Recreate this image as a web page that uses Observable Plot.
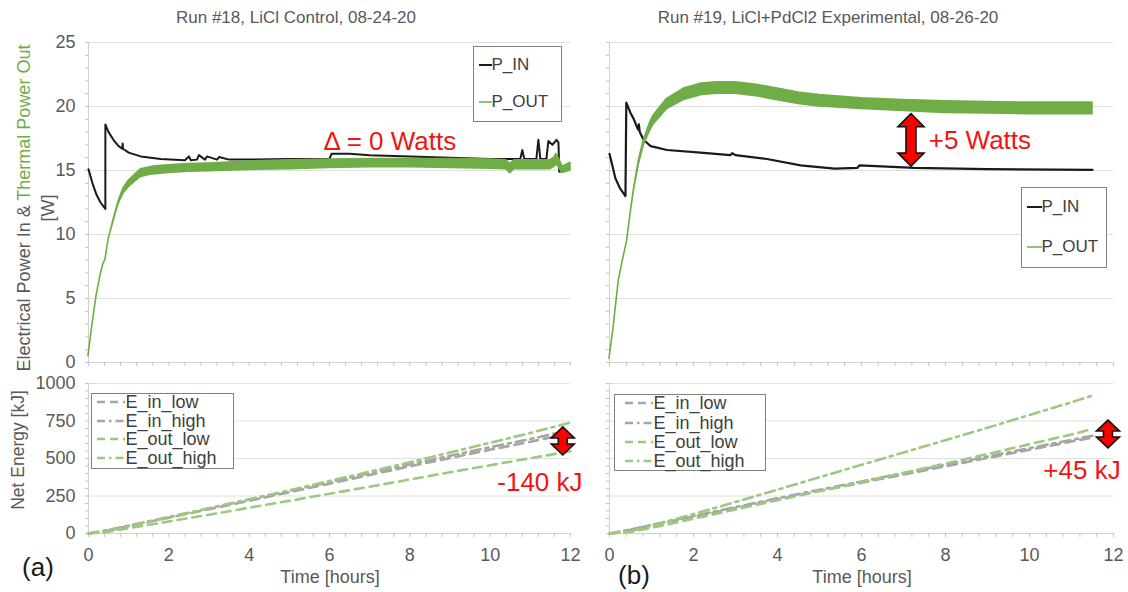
<!DOCTYPE html>
<html><head><meta charset="utf-8">
<script src="https://cdn.jsdelivr.net/npm/d3@7"></script>
<script src="https://cdn.jsdelivr.net/npm/@observablehq/plot@0.6"></script>
<style>
body{margin:0;background:#fff;font-family:"Liberation Sans",Arial,sans-serif;}
#wrap{position:relative;width:1128px;height:592px;overflow:hidden;background:#fff;}
.abs{position:absolute;white-space:nowrap;line-height:1;}
.ctr{transform:translate(-50%,-50%);}
.rot{transform:translate(-50%,-50%) rotate(-90deg);text-align:center;color:#595959;}
.legend{position:absolute;border:1.5px solid #808080;background:#fff;box-sizing:border-box;}
.item{position:absolute;white-space:nowrap;color:#404040;transform:translateY(-50%);}
svg.plot{position:absolute;}
</style></head><body><div id="wrap"></div>
<script>
// ---------- tick values ----------
const xTicks = [0, 2, 4, 6, 8, 10, 12];
const pTicks = [0, 5, 10, 15, 20, 25];
const eTicks = [0, 250, 500, 750, 1000];
const xMinor = [0,0.4,0.8,1.2,1.6,2,2.4,2.8,3.2,3.6,4,4.4,4.8,5.2,5.6,6,6.4,6.8,7.2,7.6,8,8.4,8.8,9.2,9.6,10,10.4,10.8,11.2,11.6,12];
const pMinor = [0,1,2,3,4,5,6,7,8,9,10,11,12,13,14,15,16,17,18,19,20,21,22,23,24,25];
const eMinor = [0,50,100,150,200,250,300,350,400,450,500,550,600,650,700,750,800,850,900,950,1000];

// ---------- Run #18 power ----------
const t18In = [0,0.1,0.2,0.3,0.42,0.42,0.5,0.62,0.75,0.84,0.85,0.86,1.0,1.3,1.8,2.4,2.5,2.55,2.7,2.75,2.9,2.95,3.2,3.25,3.5,4,5,6.0,6.05,6.5,7,8,9,10,10.75,10.8,10.85,11.15,11.2,11.25,11.4,11.45,11.55,11.65,11.7,11.72,11.8];
const w18In = [15.1,14.0,13.1,12.5,12.0,18.6,18.0,17.4,16.9,16.7,17.1,16.7,16.4,16.1,15.9,15.8,16.1,15.8,15.85,16.2,15.85,16.1,15.85,16.05,15.85,15.85,15.9,15.9,16.3,16.3,16.2,16.1,16.0,15.9,15.9,16.6,15.9,15.9,17.4,15.9,15.9,17.3,17.0,17.4,17.2,14.9,15.0];
const t18Out = [0,0.1,0.2,0.3,0.37,0.42,0.5,0.62,0.75,0.87,1.0,1.3,1.6,2,2.5,3,4,5,6,7,8,9,10,10.4,10.5,10.6,11,11.5,11.6,11.65,11.7,11.8,12];
const lo18Out = [0.5,3.0,5.2,6.8,7.7,8.0,9.6,11.0,12.4,13.2,13.7,14.5,14.7,14.8,14.9,14.95,15.05,15.1,15.2,15.25,15.25,15.2,15.15,15.1,14.8,15.1,15.1,15.1,15.3,15.5,15.3,14.8,15.0];
const hi18Out = [0.5,3.0,5.2,6.8,7.7,8.0,9.6,11.1,12.6,13.6,14.2,15.1,15.3,15.4,15.5,15.55,15.7,15.8,15.85,15.9,15.9,15.9,15.85,15.8,15.5,15.8,15.8,15.8,16.0,16.3,16.0,15.3,15.6];

// ---------- Run #19 power ----------
const t19In = [0,0.14,0.25,0.38,0.4,0.5,0.58,0.68,0.7,0.72,0.81,0.98,1.37,2.17,2.88,2.92,3.0,3.75,4.55,5.36,5.9,5.95,7.26,9,11.5];
const w19In = [16.3,14.4,13.6,13.0,20.3,19.5,19.0,18.2,18.6,18.0,17.4,16.9,16.6,16.4,16.2,16.35,16.2,15.9,15.4,15.15,15.2,15.4,15.2,15.1,15.05];
const t19Out = [0,0.1,0.22,0.32,0.42,0.5,0.58,0.7,0.82,0.95,1.05,1.37,1.77,2.2,2.57,3.0,3.5,4.0,4.5,5.0,6,7,8,9,10,11,11.5];
const lo19Out = [0.3,2.8,6.4,8.0,9.5,11.6,13.4,15.5,17.0,18.0,18.6,19.8,20.5,20.9,21.0,21.0,20.8,20.5,20.2,20.0,19.8,19.65,19.5,19.45,19.4,19.4,19.4];
const hi19Out = [0.3,2.8,6.4,8.0,9.5,11.6,13.5,15.8,17.4,18.6,19.3,20.6,21.4,21.8,21.9,21.9,21.7,21.4,21.1,20.9,20.65,20.5,20.4,20.35,20.3,20.3,20.3];

// ---------- Net energy [kJ] ----------
const tEIn18 = [0,0.5,1,2,3,4,5,6,7,8,9,10,11,11.85];
const tEOut18 = [0,0.5,1,2,3,4,5,6,7,8,9,10,11,12];
const eInLow18 = [0,22,50,105,162,218,275,332,390,447,503,558,612,660];
const eInHigh18 = [0,24,53,110,168,226,284,343,402,460,518,575,630,682];
const eOutLow18 = [0,12,35,80,125,172,218,265,312,360,408,455,502,548];
const eOutHigh18 = [0,18,48,108,168,228,288,350,412,475,540,605,670,740];

const tE19 = [0,0.5,1,2,3,4,5,6,7,8,9,10,11,11.5];
const eInLow19 = [0,25,55,113,170,228,283,338,393,448,503,558,613,640];
const eInHigh19 = [0,26,57,117,176,235,291,347,403,458,513,569,624,652];
const eOutLow19 = [0,10,38,98,160,222,283,343,404,466,530,595,660,697];
const eOutHigh19 = [0,15,52,130,210,292,375,458,540,622,705,790,875,920];

// ---------- annotations ----------
const arrowP19 = [{t: 7.19, top: 19.4, bottom: 15.3}];
const arrowE18 = [{t: 11.82, top: 707, bottom: 520}];
const arrowE19 = [{t: 11.88, top: 753, bottom: 567}];
const noteP18 = [{t: 5.85, v: 17.24, text: "Δ = 0 Watts"}];
const noteP19 = [{t: 7.6, v: 17.3, text: "+5 Watts"}];
const noteE18 = [{t: 12.3, v: 340, text: "-140 kJ"}];
const noteE19 = [{t: 12.17, v: 420, text: "+45 kJ"}];

const legendP = [{label: "P_IN", color: "#1a1a1a", dash: null, w: 2}, {label: "P_OUT", color: "#70ad47", dash: null, w: 1.5}];
const legendE = [
  {label: "E_in_low", color: "#a6a6a6", dash: "8,5"},
  {label: "E_in_high", color: "#a6a6a6", dash: "8,4,2.5,4"},
  {label: "E_out_low", color: "#9cc97f", dash: "8,5"},
  {label: "E_out_high", color: "#9cc97f", dash: "8,4,2.5,4"}
];

// ---------- helpers ----------
const GREEN = "#70ad47", BLACK = "#1a1a1a", GRID = "#e0e0e0", AXIS = "#d0d0d0", TICK = "#c4c4c4", RED = "#f01414";
const FONT = "'Liberation Sans', Arial, sans-serif";
const zip = (ts, key, vs) => ts.map((t, i) => ({t, [key]: vs[i]}));
const band = (ts, lo, hi) => ts.map((t, i) => ({t, lo: lo[i], hi: hi[i]}));
const plain = d => String(d);

function doubleArrows(data, hw, hl, sw) {
  return (index, scales) => {
    const g = d3.create("svg:g");
    for (const d of data) {
      const px = scales.x(d.t), ya = scales.y(d.top), yb = scales.y(d.bottom);
      const pts = [[px,ya],[px+hw,ya+hl],[px+sw,ya+hl],[px+sw,yb-hl],[px+hw,yb-hl],[px,yb],[px-hw,yb-hl],[px-sw,yb-hl],[px-sw,ya+hl],[px-hw,ya+hl]];
      g.append("path").attr("d", "M" + pts.map(p => p.join(",")).join("L") + "Z")
        .attr("fill", "#ff0000").attr("stroke", "#111").attr("stroke-width", 1.6).attr("stroke-linejoin", "miter");
    }
    return g.node();
  };
}

function baseMarks(yTicks, yMinor, showY, showX) {
  const m = [
    Plot.gridY(yTicks.slice(1), {stroke: GRID, strokeOpacity: 1}),
    Plot.ruleX([0], {stroke: AXIS}),
    Plot.ruleY([0], {stroke: AXIS}),
    Plot.axisY({ticks: yMinor, tickSize: 3, tickFormat: () => "", stroke: TICK, label: null}),
    Plot.axisX({ticks: xMinor, tickSize: 4, tickFormat: () => "", stroke: TICK, label: null, anchor: "bottom"})
  ];
  if (showY) m.push(Plot.axisY({ticks: yTicks, tickSize: 0, tickPadding: 13, fontSize: 18, fill: "#595959", label: null, tickFormat: plain}));
  if (showX) m.push(Plot.axisX({ticks: xTicks, tickSize: 0, tickPadding: 15, fontSize: 18, fill: "#595959", label: null, anchor: "bottom", tickFormat: plain}));
  return m;
}

function makePlot(opts, marks) {
  return Plot.plot({
    width: opts.width, height: opts.height,
    marginLeft: opts.ml, marginRight: opts.mr, marginTop: opts.mt, marginBottom: opts.mb,
    x: {domain: [0, 12], axis: null, label: null},
    y: {domain: opts.yDomain, axis: null, label: null},
    style: {fontFamily: FONT, fontSize: "18px", color: "#595959", overflow: "visible", background: "transparent"},
    marks
  });
}

function energyMarks(tIn, tOut, inLow, inHigh, outLow, outHigh) {
  const sw = 2.6;
  return [
    Plot.line(zip(tIn, "v", inLow), {x: "t", y: "v", stroke: legendE[0].color, strokeWidth: sw, strokeDasharray: "9,6"}),
    Plot.line(zip(tIn, "v", inHigh), {x: "t", y: "v", stroke: legendE[1].color, strokeWidth: sw, strokeDasharray: "10,5,3,5"}),
    Plot.line(zip(tOut, "v", outLow), {x: "t", y: "v", stroke: legendE[2].color, strokeWidth: sw, strokeDasharray: "9,6"}),
    Plot.line(zip(tOut, "v", outHigh), {x: "t", y: "v", stroke: legendE[3].color, strokeWidth: sw, strokeDasharray: "10,5,3,5"})
  ];
}

const wrap = document.getElementById("wrap");
function place(svg, left, top) { svg.classList.add("plot"); svg.style.left = left + "px"; svg.style.top = top + "px"; wrap.appendChild(svg); }
function text(html, x, y, size, color, cls = "ctr", extra = "") {
  const d = document.createElement("div");
  d.className = "abs " + cls;
  d.style.cssText += `left:${x}px;top:${y}px;font-size:${size}px;color:${color};${extra}`;
  d.innerHTML = html;
  wrap.appendChild(d);
}
function legend(items, box, ys, sx1, sx2, tx, size, lh) {
  const div = document.createElement("div");
  div.className = "legend";
  div.style.cssText += `left:${box[0]}px;top:${box[1]}px;width:${box[2]}px;height:${box[3]}px;`;
  items.forEach((it, i) => {
    const svg = d3.create("svg").attr("width", sx2 - sx1 + 2).attr("height", 6)
      .style("position", "absolute").style("left", (sx1 - 1.5) + "px").style("top", (ys[i] - 3 - 1.5) + "px");
    svg.append("line").attr("x1", 0).attr("x2", sx2 - sx1).attr("y1", 3).attr("y2", 3)
      .attr("stroke", it.color).attr("stroke-width", it.w || 2.6).attr("stroke-dasharray", it.dash);
    div.appendChild(svg.node());
    const t = document.createElement("div");
    t.className = "item";
    t.style.cssText += `left:${tx - 1.5}px;top:${ys[i] - 1.5}px;font-size:${size}px;line-height:${lh}px;height:${lh}px;`;
    t.textContent = it.label;
    div.appendChild(t);
  });
  wrap.appendChild(div);
}

// ---------- top-left: Run #18 power ----------
place(makePlot({width: 600, height: 375, ml: 88, mr: 30, mt: 42, mb: 13, yDomain: [0, 25]}, [
  ...baseMarks(pTicks, pMinor, true, false),
  Plot.line(zip(t18In, "v", w18In), {x: "t", y: "v", stroke: BLACK, strokeWidth: 2}),
  Plot.areaY(band(t18Out, lo18Out, hi18Out), {x: "t", y1: "lo", y2: "hi", fill: GREEN, stroke: GREEN, strokeWidth: 1.6}),
  Plot.text(noteP18, {x: "t", y: "v", text: "text", fill: RED, fontSize: 26, textAnchor: "start"})
]), 0, 0);

// ---------- top-right: Run #19 power ----------
place(makePlot({width: 528, height: 375, ml: 9, mr: 15, mt: 42, mb: 13, yDomain: [0, 25]}, [
  ...baseMarks(pTicks, pMinor, false, false),
  Plot.line(zip(t19In, "v", w19In), {x: "t", y: "v", stroke: BLACK, strokeWidth: 2.2}),
  Plot.areaY(band(t19Out, lo19Out, hi19Out), {x: "t", y1: "lo", y2: "hi", fill: GREEN, stroke: GREEN, strokeWidth: 1.6}),
  doubleArrows(arrowP19, 13, 13, 5),
  Plot.text(noteP19, {x: "t", y: "v", text: "text", fill: RED, fontSize: 26, textAnchor: "start"})
]), 600, 0);

// ---------- bottom-left: Run #18 energy ----------
place(makePlot({width: 600, height: 217, ml: 88, mr: 30, mt: 8, mb: 59, yDomain: [0, 1000]}, [
  ...baseMarks(eTicks, eMinor, true, true),
  ...energyMarks(tEIn18, tEOut18, eInLow18, eInHigh18, eOutLow18, eOutHigh18),
  doubleArrows(arrowE18, 11.5, 11, 4.5),
  Plot.text(noteE18, {x: "t", y: "v", text: "text", fill: RED, fontSize: 26, textAnchor: "end"})
]), 0, 375);

// ---------- bottom-right: Run #19 energy ----------
place(makePlot({width: 528, height: 217, ml: 9, mr: 15, mt: 8, mb: 59, yDomain: [0, 1000]}, [
  ...baseMarks(eTicks, eMinor, false, true),
  ...energyMarks(tE19, tE19, eInLow19, eInHigh19, eOutLow19, eOutHigh19),
  doubleArrows(arrowE19, 11.5, 11, 4.5),
  Plot.text(noteE19, {x: "t", y: "v", text: "text", fill: RED, fontSize: 26, textAnchor: "end"})
]), 600, 375);

// ---------- titles and labels ----------
text("Run #18, LiCl Control, 08-24-20", 296, 17, 17, "#595959");
text("Run #19, LiCl+PdCl2 Experimental, 08-26-20", 828, 17, 17, "#595959");
text('Electrical Power In &amp; <span style="color:' + GREEN + '">Thermal Power Out</span><br>[W]', 36, 208, 18, "#595959", "rot", "line-height:24px;");
text("Net Energy [kJ]", 18.5, 450, 17.5, "#595959", "rot");
text("Time [hours]", 330, 577, 18, "#595959");
text("Time [hours]", 862, 577, 18, "#595959");
text("(a)", 38, 567, 26, "#1a1a1a");
text("(b)", 634, 575, 26, "#1a1a1a");

// ---------- legends ----------
legend(legendP, [473, 46, 89, 76], [19, 56], 6, 19, 19, 17, 18);
legend(legendP, [1021, 187, 86, 81], [20, 60], 6, 21, 21, 17, 18);
legend(legendE, [91, 393, 143, 76], [9.5, 28, 46.5, 65], 6, 34, 35, 18, 17);
legend(legendE, [614, 394, 152, 77], [9.5, 29, 48, 67], 11, 39, 40, 18, 17);
</script></body></html>
